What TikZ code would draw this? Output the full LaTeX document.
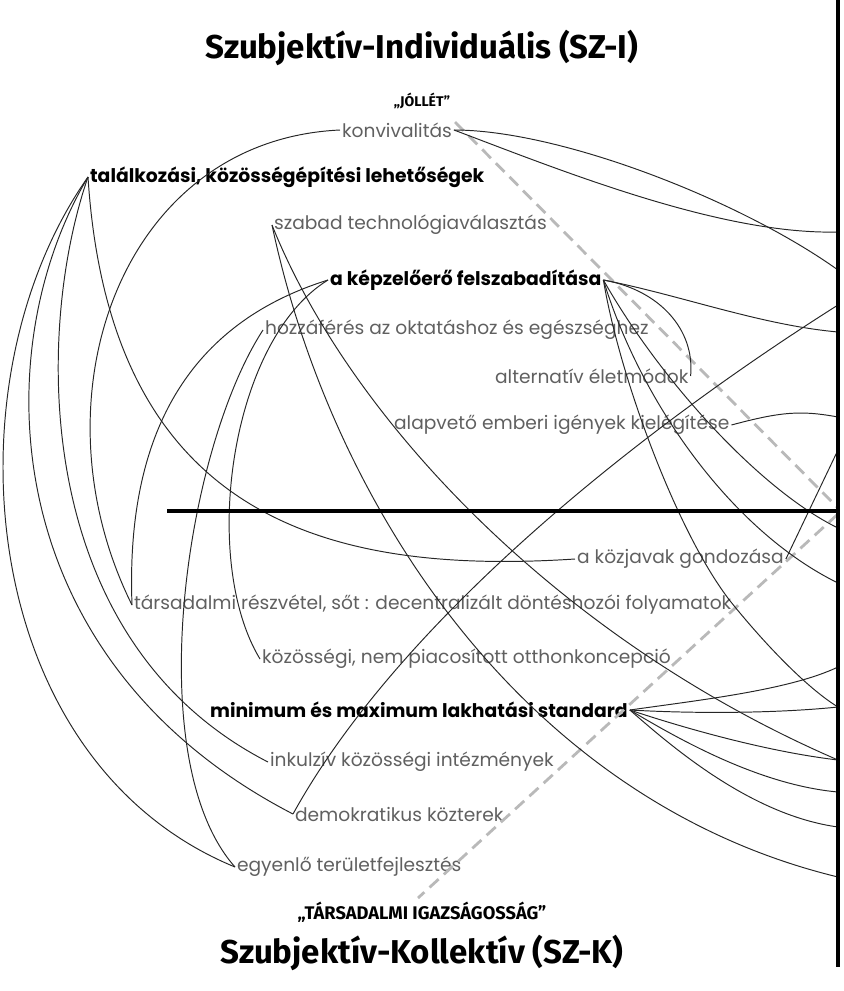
\documentclass[tikz,border=0pt]{standalone}
\usepackage{fontspec}
\setmainfont{Poppins}
\newfontfamily\headfont{Fira Sans}
\usetikzlibrary{positioning}
\definecolor{LabelGray}{RGB}{96,96,96}
\definecolor{SplitGray}{RGB}{185,185,185}

\begin{document}
\begin{tikzpicture}[
  x=0.02cm, y=-0.02cm,
  item/.style={anchor=west, inner sep=1pt, text=LabelGray, font=\fontsize{10.6}{12}\selectfont},
  keyitem/.style={item, text=black, font=\fontsize{10.7}{12}\selectfont\bfseries},
  heading/.style={font=\headfont\fontsize{18.8}{22}\selectfont\bfseries, inner sep=0pt},
  motto/.style={font=\headfont\fontsize{10.4}{12}\selectfont\bfseries, inner sep=0pt},
  link/.style={black!85, line width=0.55pt},
  axis/.style={black, line width=1.8pt},
  split/.style={SplitGray, line width=1.6pt, dash pattern=on 7pt off 4pt}
]
\useasboundingbox (0,0) rectangle (844,991);

% headings
\node (top) [heading] at (422,48) {Szubjektív-Individuális (SZ-I)};
\node (wellbeing) [motto, font=\headfont\fontsize{8}{10}\selectfont\bfseries] at (422,101) {„JÓLLÉT”};
\node (bottom) [heading] at (422,953) {Szubjektív-Kollektív (SZ-K)};
\node (justice) [motto] at (422,912) {„TÁRSADALMI IGAZSÁGOSSÁG”};

% labels
\node (konv) [item] at (340,130) {konvivalitás};
\node (talal) [keyitem] at (88,177) {találkozási, közösségépítési lehetőségek};
\node (szabad) [item] at (272,225) {szabad technológiaválasztás};
\node (kepz) [keyitem] at (328,280) {a képzelőerő felszabadítása};
\node (hozza) [item] at (263,330) {hozzáférés az oktatáshoz és egészséghez};
\node (alt) [item] at (493,376) {alternatív életmódok};
\node (alap) [item] at (392,425) {alapvető emberi igények kielégítése};
\node (kozj) [item] at (575,559) {a közjavak gondozása};
\node (tars) [item] at (132,605) {társadalmi részvétel, sőt : decentralizált döntéshozói folyamatok};
\node (kozos) [item] at (260,659) {közösségi, nem piacosított otthonkoncepció};
\node (minmax) [keyitem] at (208,710) {minimum és maximum lakhatási standard};
\node (inkl) [item] at (268,762) {inkulzív közösségi intézmények};
\node (demo) [item] at (293,814) {demokratikus közterek};
\node (egyen) [item] at (235,867) {egyenlő területfejlesztés};

% free ends on the right border
\foreach \y in {232,270,305,332,417,450,528,583,667,707,760,792,827,877}
  \coordinate (e\y) at (838,\y);

% quadrant split
\draw [split] (455,122) -- (838,508);
\draw [split] (838,514) -- (418,898);

% links on the left
\draw [link] (konv.west) .. controls (120,140) and (30,400) .. (tars.west);
\draw [link] (talal.west) .. controls (-55,380) and (-25,760) .. (egyen.west);
\draw [link] (talal.west) .. controls (-15,350) and (-5,660) .. (demo.west);
\draw [link] (talal.west) .. controls (35,330) and (30,640) .. (inkl.west);
\draw [link] (talal.west) .. controls (110,520) and (330,575) .. (kozj.west);
\draw [link] (kepz.west) .. controls (200,320) and (125,420) .. (tars.west);
\draw [link] (kepz.west) .. controls (230,340) and (200,560) .. (kozos.west);
\draw [link] (hozza.west) .. controls (185,450) and (140,760) .. (egyen.west);

% links to the right
\draw [link] (konv.east) .. controls (560,130) and (740,200) .. (e270);
\draw [link] (konv.east) .. controls (560,170) and (720,235) .. (e232);
\draw [link] (szabad.west) .. controls (330,500) and (520,800) .. (e877);
\draw [link] (szabad.west) .. controls (350,420) and (560,640) .. (e760);
\draw [link] (kepz.east) .. controls (660,290) and (695,330) .. (alt.east);
\draw [link] (kepz.east) .. controls (680,295) and (760,325) .. (e332);
\draw [link] (kepz.east) .. controls (660,380) and (760,490) .. (e528);
\draw [link] (kepz.east) .. controls (640,400) and (730,530) .. (e583);
\draw [link] (kepz.east) .. controls (620,380) and (680,540) .. (tars.east);
\draw [link] (tars.east) .. controls (770,650) and (810,690) .. (e707);
\draw [link] (demo.west) .. controls (400,620) and (640,430) .. (e305);
\draw [link] (alap.east) .. controls (780,412) and (800,410) .. (e417);
\draw [link] (kozj.east) -- (e450);
\draw [link] (minmax.east) .. controls (700,700) and (790,690) .. (e667);
\draw [link] (minmax.east) .. controls (700,714) and (780,713) .. (e707);
\draw [link] (minmax.east) .. controls (690,730) and (770,752) .. (e760);
\draw [link] (minmax.east) .. controls (680,740) and (760,785) .. (e792);
\draw [link] (minmax.east) .. controls (670,745) and (750,815) .. (e827);

% axes
\draw [axis] (167,511) -- (838,511);
\draw [axis] (838,0) -- (838,967);
\end{tikzpicture}
\end{document}
